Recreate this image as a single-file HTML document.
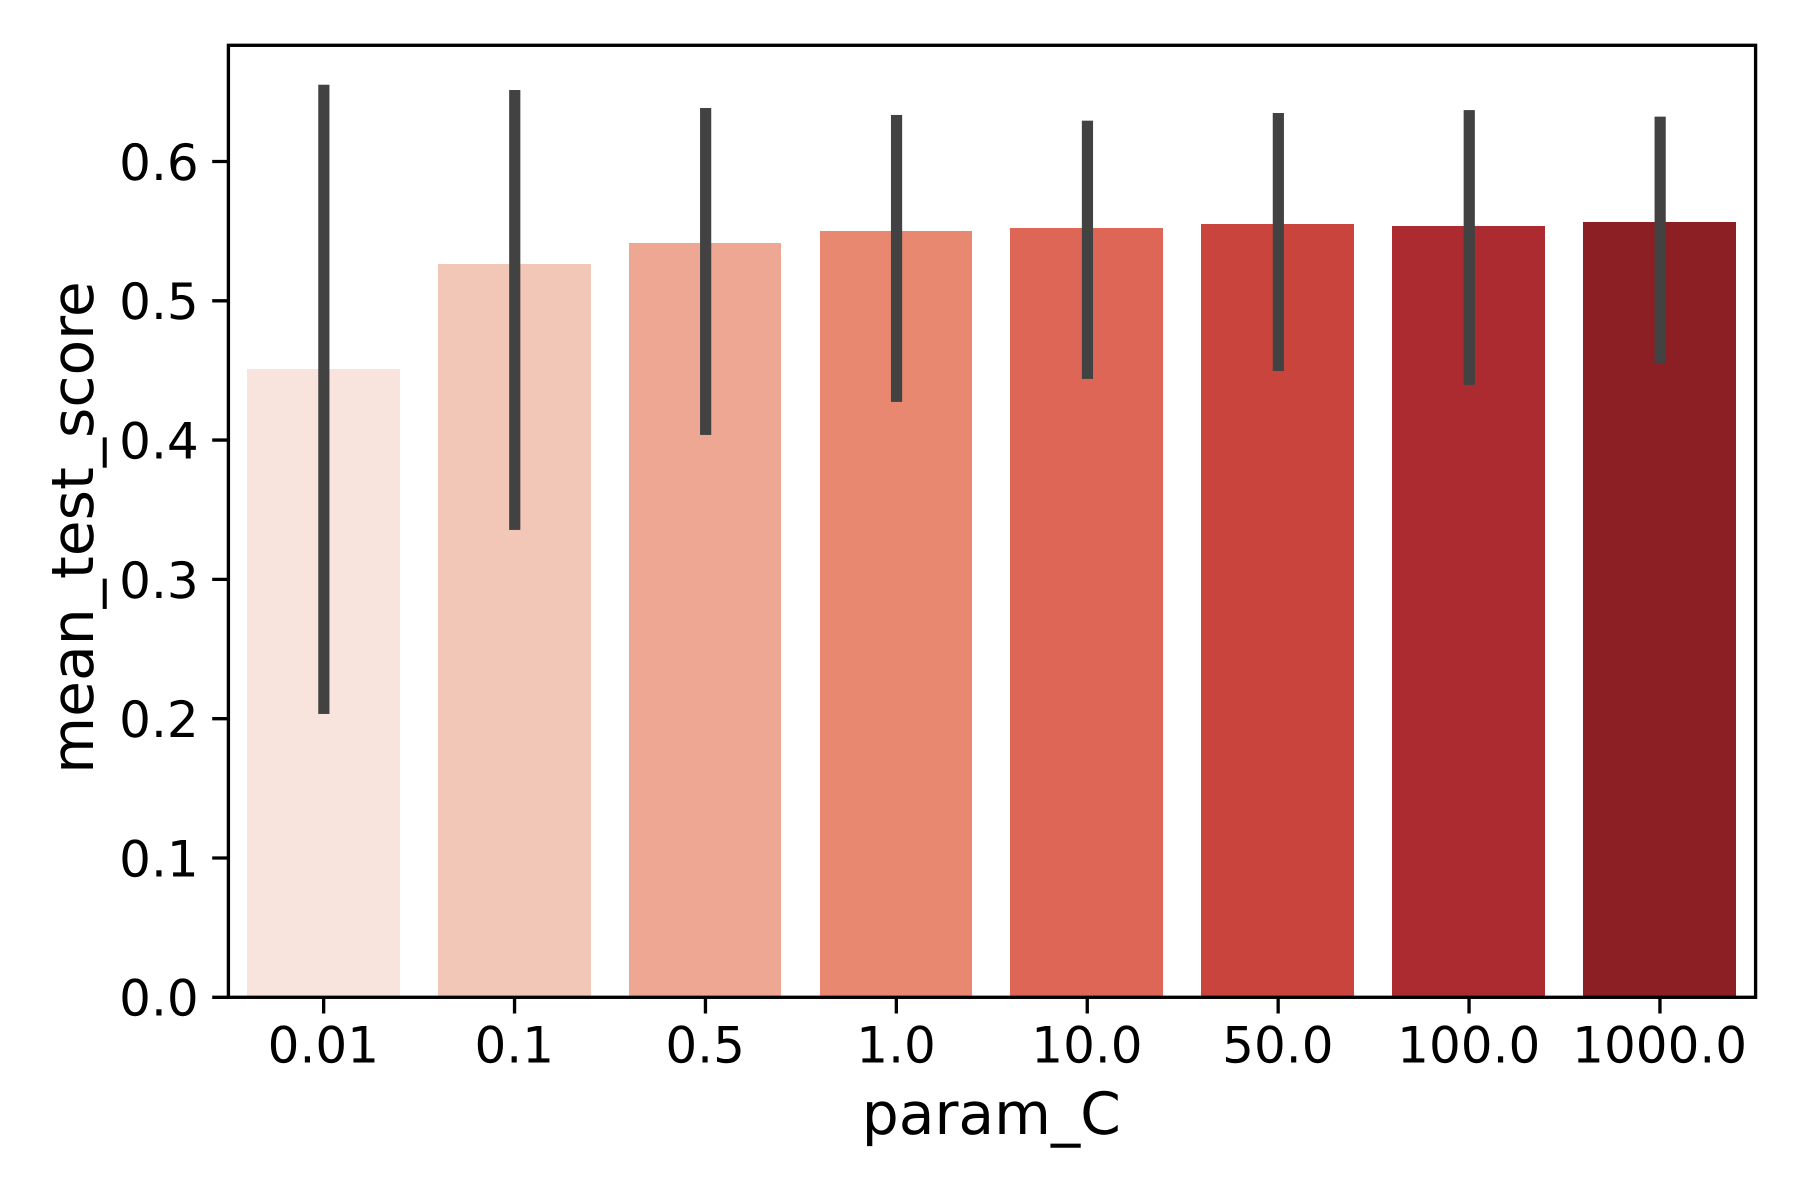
<!DOCTYPE html>
<html lang="en">
<head>
<meta charset="utf-8">
<title>mean_test_score by param_C</title>
<style>
  html, body { margin: 0; padding: 0; background: #ffffff; }
  svg { display: block; }
  text { font-family: "DejaVu Sans", "Liberation Sans", sans-serif; fill: #000000; text-rendering: geometricPrecision; }
  .tick-label { font-size: 50px; }
  .axis-title { font-size: 58.33px; }
</style>
</head>
<body>
<svg id="chart" xmlns="http://www.w3.org/2000/svg" width="1800" height="1200" viewBox="0 0 1800 1200">
  <rect x="0" y="0" width="1800" height="1200" fill="#ffffff"/>
  <g id="bars"></g>
  <g id="error-bars"></g>
  <g id="x-axis"></g>
  <g id="y-axis"></g>
  <rect id="frame" fill="none" stroke="#000000" stroke-width="3.33"/>
  <text class="axis-title" x="991.3" y="1134" text-anchor="middle">param_C</text>
  <text class="axis-title" transform="translate(93 527.5) rotate(-90)" text-anchor="middle">mean_test_score</text>
</svg>
<script>
const categories = ["0.01", "0.1", "0.5", "1.0", "10.0", "50.0", "100.0", "1000.0"];
const meanScores = [0.4510, 0.5264, 0.5415, 0.5501, 0.5522, 0.5551, 0.5537, 0.5565];
const errorLow = [0.2034, 0.3355, 0.4037, 0.4274, 0.4439, 0.4496, 0.4396, 0.4548];
const errorHigh = [0.6551, 0.6513, 0.6384, 0.6334, 0.6293, 0.6348, 0.6369, 0.6322];
const yTickValues = [0, 0.1, 0.2, 0.3, 0.4, 0.5, 0.6];
const yTickLabels = ["0.0", "0.1", "0.2", "0.3", "0.4", "0.5", "0.6"];

const barPalette = ["#f8e4dc", "#f3c7b8", "#eda792", "#e88870", "#de6656", "#ca443e", "#ab2b30", "#8b1f24"];

const plot = { left: 228.4, right: 1755.6, top: 45.3, bottom: 997.3 };
const yMax = 0.6834;
const svgNS = "http://www.w3.org/2000/svg";

function xScale(index) {
  const step = (plot.right - plot.left) / categories.length;
  return plot.left + step * (index + 0.5);
}
function xStep() {
  return (plot.right - plot.left) / categories.length;
}
function yScale(value) {
  return plot.bottom - (value / yMax) * (plot.bottom - plot.top);
}
function make(tag, attrs, parent) {
  const el = document.createElementNS(svgNS, tag);
  for (const key in attrs) el.setAttribute(key, attrs[key]);
  parent.appendChild(el);
  return el;
}

const barsGroup = document.getElementById("bars");
const errorGroup = document.getElementById("error-bars");
const xAxisGroup = document.getElementById("x-axis");
const yAxisGroup = document.getElementById("y-axis");

const frame = document.getElementById("frame");
frame.setAttribute("x", plot.left);
frame.setAttribute("y", plot.top);
frame.setAttribute("width", plot.right - plot.left);
frame.setAttribute("height", plot.bottom - plot.top);

categories.forEach(function (category, i) {
  const cx = xScale(i);
  const half = xStep() * 0.4;
  const x0 = Math.round(cx - half - 0.6);
  const x1 = Math.round(cx + half - 0.6);
  const top = Math.round(yScale(meanScores[i]));

  const bar = make("rect", { x: x0, y: top, width: x1 - x0, height: plot.bottom - top, fill: barPalette[i % barPalette.length] }, barsGroup);
  
  

  const errorBar = make("rect", { x: cx - 5.6, y: yScale(errorHigh[i]), width: 11.2, height: yScale(errorLow[i]) - yScale(errorHigh[i]), fill: "#424242" }, errorGroup);
  
  

  const tick = make("line", { x1: cx - 0.2, x2: cx - 0.2, y1: plot.bottom, y2: plot.bottom + 16.2, stroke: "#000000", "stroke-width": 3.33 }, xAxisGroup);
  
  

  const label = make("text", { x: cx - 0.5, y: 1062.7, "text-anchor": "middle", class: "tick-label" }, xAxisGroup);
  label.textContent = category;
  
  
});

yTickValues.forEach(function (value, i) {
  const y = yScale(value);

  const tick = make("line", { x1: plot.left - 16.2, x2: plot.left, y1: y, y2: y, stroke: "#000000", "stroke-width": 3.33 }, yAxisGroup);
  
  

  const label = make("text", { x: 198.7, y: y + 18.4, "text-anchor": "end", class: "tick-label" }, yAxisGroup);
  label.textContent = yTickLabels[i];
  
  
});
</script>
</body>
</html>
